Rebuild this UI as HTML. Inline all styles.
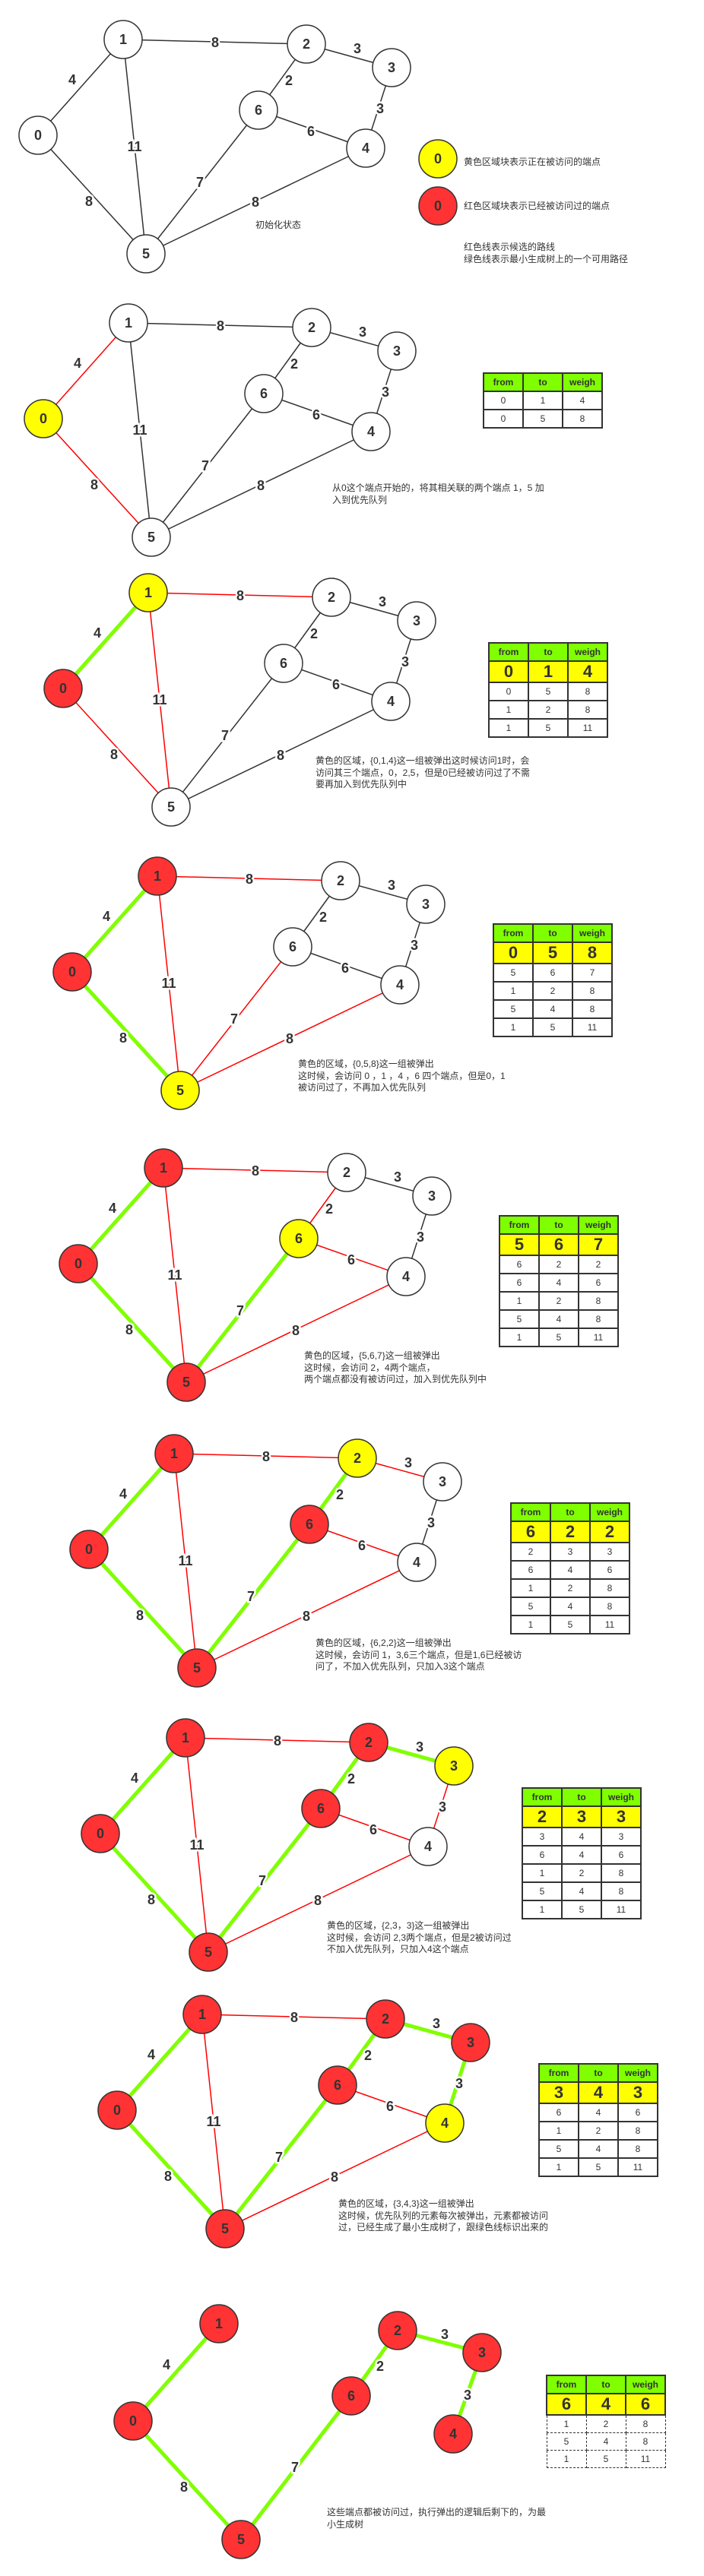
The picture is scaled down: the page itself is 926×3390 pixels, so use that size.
<!DOCTYPE html>
<html><head><meta charset="utf-8">
<style>
html,body{margin:0;padding:0;background:#fff;}
body{width:926px;height:3390px;position:relative;overflow:hidden;font-family:"Liberation Sans","Noto Sans CJK SC",sans-serif;color:#333;}
svg{position:absolute;left:0;top:0;}
.t{position:absolute;font-size:12px;line-height:15.5px;color:#333;white-space:nowrap;}
table{position:absolute;border-collapse:collapse;font-family:"Liberation Sans",sans-serif;}
td{border:2px solid #333;width:50px;height:22px;text-align:center;font-size:12px;padding:0;color:#333;}
tr.h td{background:#80ff00;font-weight:bold;}
tr.y td{background:#ffff00;font-size:22px;font-weight:bold;}
tr.d td{border:1.5px dashed #333;}
text.l{font:bold 18px "Liberation Sans",sans-serif;fill:#333;text-anchor:middle;paint-order:stroke;stroke:#fff;stroke-width:5px;}
text.n{font:bold 18px "Liberation Sans",sans-serif;fill:#333;text-anchor:middle;}
.k{stroke:#333;stroke-width:1.5;fill:none}
.r{stroke:#f00;stroke-width:1.5;fill:none}
.g{stroke:#80ff00;stroke-width:5;fill:none}
circle{stroke:#333;stroke-width:1.5}
</style></head><body>
<svg width="926" height="3390" viewBox="0 0 926 3390">
<defs>
<g id="labels">
<text class="l" x="95" y="111">4</text>
<text class="l" x="117" y="271">8</text>
<text class="l" x="177" y="199">11</text>
<text class="l" x="283" y="62">8</text>
<text class="l" x="470" y="70">3</text>
<text class="l" x="380" y="112">2</text>
<text class="l" x="409" y="179">6</text>
<text class="l" x="500" y="149">3</text>
<text class="l" x="263" y="246">7</text>
<text class="l" x="336" y="272">8</text>
</g>
</defs>

<!-- Panel 1 -->
<g transform="translate(0,0)">
<line class="k" x1="50" y1="178" x2="162" y2="52"/>
<line class="k" x1="50" y1="178" x2="192" y2="334"/>
<line class="k" x1="162" y1="52" x2="192" y2="334"/>
<line class="k" x1="162" y1="52" x2="403" y2="58"/>
<line class="k" x1="403" y1="58" x2="515" y2="89"/>
<line class="k" x1="403" y1="58" x2="340" y2="145"/>
<line class="k" x1="340" y1="145" x2="481" y2="195"/>
<line class="k" x1="515" y1="89" x2="481" y2="195"/>
<line class="k" x1="192" y1="334" x2="340" y2="145"/>
<line class="k" x1="192" y1="334" x2="481" y2="195"/>
<use href="#labels"/>
<circle cx="50" cy="178" r="25" fill="#fff"/><text class="n" x="50" y="184">0</text>
<circle cx="162" cy="52" r="25" fill="#fff"/><text class="n" x="162" y="58">1</text>
<circle cx="403" cy="58" r="25" fill="#fff"/><text class="n" x="403" y="64">2</text>
<circle cx="515" cy="89" r="25" fill="#fff"/><text class="n" x="515" y="95">3</text>
<circle cx="481" cy="195" r="25" fill="#fff"/><text class="n" x="481" y="201">4</text>
<circle cx="192" cy="334" r="25" fill="#fff"/><text class="n" x="192" y="340">5</text>
<circle cx="340" cy="145" r="25" fill="#fff"/><text class="n" x="340" y="151">6</text>
</g>
<circle cx="576" cy="209" r="25" fill="#ffff00"/><text class="n" x="576" y="215">0</text>
<circle cx="576" cy="271" r="25" fill="#ff3333"/><text class="n" x="576" y="277">0</text>

<!-- Panel 2 -->
<g transform="translate(7,373)">
<line class="r" x1="50" y1="178" x2="162" y2="52"/>
<line class="r" x1="50" y1="178" x2="192" y2="334"/>
<line class="k" x1="162" y1="52" x2="192" y2="334"/>
<line class="k" x1="162" y1="52" x2="403" y2="58"/>
<line class="k" x1="403" y1="58" x2="515" y2="89"/>
<line class="k" x1="403" y1="58" x2="340" y2="145"/>
<line class="k" x1="340" y1="145" x2="481" y2="195"/>
<line class="k" x1="515" y1="89" x2="481" y2="195"/>
<line class="k" x1="192" y1="334" x2="340" y2="145"/>
<line class="k" x1="192" y1="334" x2="481" y2="195"/>
<use href="#labels"/>
<circle cx="50" cy="178" r="25" fill="#ffff00"/><text class="n" x="50" y="184">0</text>
<circle cx="162" cy="52" r="25" fill="#fff"/><text class="n" x="162" y="58">1</text>
<circle cx="403" cy="58" r="25" fill="#fff"/><text class="n" x="403" y="64">2</text>
<circle cx="515" cy="89" r="25" fill="#fff"/><text class="n" x="515" y="95">3</text>
<circle cx="481" cy="195" r="25" fill="#fff"/><text class="n" x="481" y="201">4</text>
<circle cx="192" cy="334" r="25" fill="#fff"/><text class="n" x="192" y="340">5</text>
<circle cx="340" cy="145" r="25" fill="#fff"/><text class="n" x="340" y="151">6</text>
</g>

<!-- Panel 3 -->
<g transform="translate(33,728)">
<line class="g" x1="50" y1="178" x2="162" y2="52"/>
<line class="r" x1="50" y1="178" x2="192" y2="334"/>
<line class="r" x1="162" y1="52" x2="192" y2="334"/>
<line class="r" x1="162" y1="52" x2="403" y2="58"/>
<line class="k" x1="403" y1="58" x2="515" y2="89"/>
<line class="k" x1="403" y1="58" x2="340" y2="145"/>
<line class="k" x1="340" y1="145" x2="481" y2="195"/>
<line class="k" x1="515" y1="89" x2="481" y2="195"/>
<line class="k" x1="192" y1="334" x2="340" y2="145"/>
<line class="k" x1="192" y1="334" x2="481" y2="195"/>
<use href="#labels"/>
<circle cx="50" cy="178" r="25" fill="#ff3333"/><text class="n" x="50" y="184">0</text>
<circle cx="162" cy="52" r="25" fill="#ffff00"/><text class="n" x="162" y="58">1</text>
<circle cx="403" cy="58" r="25" fill="#fff"/><text class="n" x="403" y="64">2</text>
<circle cx="515" cy="89" r="25" fill="#fff"/><text class="n" x="515" y="95">3</text>
<circle cx="481" cy="195" r="25" fill="#fff"/><text class="n" x="481" y="201">4</text>
<circle cx="192" cy="334" r="25" fill="#fff"/><text class="n" x="192" y="340">5</text>
<circle cx="340" cy="145" r="25" fill="#fff"/><text class="n" x="340" y="151">6</text>
</g>

<!-- Panel 4 -->
<g transform="translate(45,1101)">
<line class="g" x1="50" y1="178" x2="162" y2="52"/>
<line class="g" x1="50" y1="178" x2="192" y2="334"/>
<line class="r" x1="162" y1="52" x2="192" y2="334"/>
<line class="r" x1="162" y1="52" x2="403" y2="58"/>
<line class="k" x1="403" y1="58" x2="515" y2="89"/>
<line class="k" x1="403" y1="58" x2="340" y2="145"/>
<line class="k" x1="340" y1="145" x2="481" y2="195"/>
<line class="k" x1="515" y1="89" x2="481" y2="195"/>
<line class="r" x1="192" y1="334" x2="340" y2="145"/>
<line class="r" x1="192" y1="334" x2="481" y2="195"/>
<use href="#labels"/>
<circle cx="50" cy="178" r="25" fill="#ff3333"/><text class="n" x="50" y="184">0</text>
<circle cx="162" cy="52" r="25" fill="#ff3333"/><text class="n" x="162" y="58">1</text>
<circle cx="403" cy="58" r="25" fill="#fff"/><text class="n" x="403" y="64">2</text>
<circle cx="515" cy="89" r="25" fill="#fff"/><text class="n" x="515" y="95">3</text>
<circle cx="481" cy="195" r="25" fill="#fff"/><text class="n" x="481" y="201">4</text>
<circle cx="192" cy="334" r="25" fill="#ffff00"/><text class="n" x="192" y="340">5</text>
<circle cx="340" cy="145" r="25" fill="#fff"/><text class="n" x="340" y="151">6</text>
</g>

<!-- Panel 5 -->
<g transform="translate(53,1485)">
<line class="g" x1="50" y1="178" x2="162" y2="52"/>
<line class="g" x1="50" y1="178" x2="192" y2="334"/>
<line class="r" x1="162" y1="52" x2="192" y2="334"/>
<line class="r" x1="162" y1="52" x2="403" y2="58"/>
<line class="k" x1="403" y1="58" x2="515" y2="89"/>
<line class="r" x1="403" y1="58" x2="340" y2="145"/>
<line class="r" x1="340" y1="145" x2="481" y2="195"/>
<line class="k" x1="515" y1="89" x2="481" y2="195"/>
<line class="g" x1="192" y1="334" x2="340" y2="145"/>
<line class="r" x1="192" y1="334" x2="481" y2="195"/>
<use href="#labels"/>
<circle cx="50" cy="178" r="25" fill="#ff3333"/><text class="n" x="50" y="184">0</text>
<circle cx="162" cy="52" r="25" fill="#ff3333"/><text class="n" x="162" y="58">1</text>
<circle cx="403" cy="58" r="25" fill="#fff"/><text class="n" x="403" y="64">2</text>
<circle cx="515" cy="89" r="25" fill="#fff"/><text class="n" x="515" y="95">3</text>
<circle cx="481" cy="195" r="25" fill="#fff"/><text class="n" x="481" y="201">4</text>
<circle cx="192" cy="334" r="25" fill="#ff3333"/><text class="n" x="192" y="340">5</text>
<circle cx="340" cy="145" r="25" fill="#ffff00"/><text class="n" x="340" y="151">6</text>
</g>

<!-- Panel 6 -->
<g transform="translate(67,1861)">
<line class="g" x1="50" y1="178" x2="162" y2="52"/>
<line class="g" x1="50" y1="178" x2="192" y2="334"/>
<line class="r" x1="162" y1="52" x2="192" y2="334"/>
<line class="r" x1="162" y1="52" x2="403" y2="58"/>
<line class="r" x1="403" y1="58" x2="515" y2="89"/>
<line class="g" x1="403" y1="58" x2="340" y2="145"/>
<line class="r" x1="340" y1="145" x2="481" y2="195"/>
<line class="k" x1="515" y1="89" x2="481" y2="195"/>
<line class="g" x1="192" y1="334" x2="340" y2="145"/>
<line class="r" x1="192" y1="334" x2="481" y2="195"/>
<use href="#labels"/>
<circle cx="50" cy="178" r="25" fill="#ff3333"/><text class="n" x="50" y="184">0</text>
<circle cx="162" cy="52" r="25" fill="#ff3333"/><text class="n" x="162" y="58">1</text>
<circle cx="403" cy="58" r="25" fill="#ffff00"/><text class="n" x="403" y="64">2</text>
<circle cx="515" cy="89" r="25" fill="#fff"/><text class="n" x="515" y="95">3</text>
<circle cx="481" cy="195" r="25" fill="#fff"/><text class="n" x="481" y="201">4</text>
<circle cx="192" cy="334" r="25" fill="#ff3333"/><text class="n" x="192" y="340">5</text>
<circle cx="340" cy="145" r="25" fill="#ff3333"/><text class="n" x="340" y="151">6</text>
</g>

<!-- Panel 7 -->
<g transform="translate(82,2235)">
<line class="g" x1="50" y1="178" x2="162" y2="52"/>
<line class="g" x1="50" y1="178" x2="192" y2="334"/>
<line class="r" x1="162" y1="52" x2="192" y2="334"/>
<line class="r" x1="162" y1="52" x2="403" y2="58"/>
<line class="g" x1="403" y1="58" x2="515" y2="89"/>
<line class="g" x1="403" y1="58" x2="340" y2="145"/>
<line class="r" x1="340" y1="145" x2="481" y2="195"/>
<line class="r" x1="515" y1="89" x2="481" y2="195"/>
<line class="g" x1="192" y1="334" x2="340" y2="145"/>
<line class="r" x1="192" y1="334" x2="481" y2="195"/>
<use href="#labels"/>
<circle cx="50" cy="178" r="25" fill="#ff3333"/><text class="n" x="50" y="184">0</text>
<circle cx="162" cy="52" r="25" fill="#ff3333"/><text class="n" x="162" y="58">1</text>
<circle cx="403" cy="58" r="25" fill="#ff3333"/><text class="n" x="403" y="64">2</text>
<circle cx="515" cy="89" r="25" fill="#ffff00"/><text class="n" x="515" y="95">3</text>
<circle cx="481" cy="195" r="25" fill="#fff"/><text class="n" x="481" y="201">4</text>
<circle cx="192" cy="334" r="25" fill="#ff3333"/><text class="n" x="192" y="340">5</text>
<circle cx="340" cy="145" r="25" fill="#ff3333"/><text class="n" x="340" y="151">6</text>
</g>

<!-- Panel 8 -->
<g transform="translate(104,2599)">
<line class="g" x1="50" y1="178" x2="162" y2="52"/>
<line class="g" x1="50" y1="178" x2="192" y2="334"/>
<line class="r" x1="162" y1="52" x2="192" y2="334"/>
<line class="r" x1="162" y1="52" x2="403" y2="58"/>
<line class="g" x1="403" y1="58" x2="515" y2="89"/>
<line class="g" x1="403" y1="58" x2="340" y2="145"/>
<line class="r" x1="340" y1="145" x2="481" y2="195"/>
<line class="g" x1="515" y1="89" x2="481" y2="195"/>
<line class="g" x1="192" y1="334" x2="340" y2="145"/>
<line class="r" x1="192" y1="334" x2="481" y2="195"/>
<use href="#labels"/>
<circle cx="50" cy="178" r="25" fill="#ff3333"/><text class="n" x="50" y="184">0</text>
<circle cx="162" cy="52" r="25" fill="#ff3333"/><text class="n" x="162" y="58">1</text>
<circle cx="403" cy="58" r="25" fill="#ff3333"/><text class="n" x="403" y="64">2</text>
<circle cx="515" cy="89" r="25" fill="#ff3333"/><text class="n" x="515" y="95">3</text>
<circle cx="481" cy="195" r="25" fill="#ffff00"/><text class="n" x="481" y="201">4</text>
<circle cx="192" cy="334" r="25" fill="#ff3333"/><text class="n" x="192" y="340">5</text>
<circle cx="340" cy="145" r="25" fill="#ff3333"/><text class="n" x="340" y="151">6</text>
</g>

<!-- Panel 9 -->
<g>
<line class="g" x1="175" y1="3186" x2="288" y2="3058"/>
<line class="g" x1="175" y1="3186" x2="317" y2="3342"/>
<line class="g" x1="317" y1="3342" x2="462" y2="3153"/>
<line class="g" x1="462" y1="3153" x2="523" y2="3067"/>
<line class="g" x1="523" y1="3067" x2="634" y2="3096"/>
<line class="g" x1="634" y1="3096" x2="596" y2="3203"/>
<text class="l" x="219" y="3118">4</text>
<text class="l" x="242" y="3279">8</text>
<text class="l" x="388" y="3253">7</text>
<text class="l" x="500" y="3120">2</text>
<text class="l" x="585" y="3078">3</text>
<text class="l" x="615" y="3158">3</text>
<circle cx="175" cy="3186" r="25" fill="#ff3333"/><text class="n" x="175" y="3192">0</text>
<circle cx="288" cy="3058" r="25" fill="#ff3333"/><text class="n" x="288" y="3064">1</text>
<circle cx="523" cy="3067" r="25" fill="#ff3333"/><text class="n" x="523" y="3073">2</text>
<circle cx="634" cy="3096" r="25" fill="#ff3333"/><text class="n" x="634" y="3102">3</text>
<circle cx="596" cy="3203" r="25" fill="#ff3333"/><text class="n" x="596" y="3209">4</text>
<circle cx="317" cy="3342" r="25" fill="#ff3333"/><text class="n" x="317" y="3348">5</text>
<circle cx="462" cy="3153" r="25" fill="#ff3333"/><text class="n" x="462" y="3159">6</text>
</g>
</svg>

<div class="t" style="left:610px;top:206px;">黄色区域块表示正在被访问的端点</div>
<div class="t" style="left:610px;top:264px;">红色区域块表示已经被访问过的端点</div>
<div class="t" style="left:610px;top:318px;">红色线表示候选的路线<br>绿色线表示最小生成树上的一个可用路径</div>
<div class="t" style="left:336px;top:289px;">初始化状态</div>

<div class="t" style="left:437px;top:635px;">从0这个端点开始的，将其相关联的两个端点 1，5 加<br>入到优先队列</div>
<div class="t" style="left:415px;top:994px;">黄色的区域，{0,1,4}这一组被弹出这时候访问1时，会<br>访问其三个端点，0，2,5，但是0已经被访问过了不需<br>要再加入到优先队列中</div>
<div class="t" style="left:392px;top:1393px;">黄色的区域，{0,5,8}这一组被弹出<br>这时候，会访问 0 ，1 ，4 ，6 四个端点，但是0，1<br>被访问过了，不再加入优先队列</div>
<div class="t" style="left:400px;top:1777px;">黄色的区域，{5,6,7}这一组被弹出<br>这时候，会访问 2，4两个端点，<br>两个端点都没有被访问过，加入到优先队列中</div>
<div class="t" style="left:415px;top:2155px;">黄色的区域，{6,2,2}这一组被弹出<br>这时候，会访问 1，3,6三个端点，但是1,6已经被访<br>问了，不加入优先队列，只加入3这个端点</div>
<div class="t" style="left:430px;top:2527px;">黄色的区域，{2,3，3}这一组被弹出<br>这时候，会访问 2,3两个端点，但是2被访问过<br>不加入优先队列，只加入4这个端点</div>
<div class="t" style="left:445px;top:2893px;">黄色的区域，{3,4,3}这一组被弹出<br>这时候，优先队列的元素每次被弹出，元素都被访问<br>过，已经生成了最小生成树了，跟绿色线标识出来的</div>
<div class="t" style="left:430px;top:3299px;">这些端点都被访问过，执行弹出的逻辑后剩下的，为最<br>小生成树</div>

<table style="left:635px;top:490px;"><tr class="h"><td>from</td><td>to</td><td>weigh</td></tr><tr><td>0</td><td>1</td><td>4</td></tr><tr><td>0</td><td>5</td><td>8</td></tr></table>
<table style="left:642px;top:845px;"><tr class="h"><td>from</td><td>to</td><td>weigh</td></tr><tr class="y"><td>0</td><td>1</td><td>4</td></tr><tr><td>0</td><td>5</td><td>8</td></tr><tr><td>1</td><td>2</td><td>8</td></tr><tr><td>1</td><td>5</td><td>11</td></tr></table>
<table style="left:648px;top:1215px;"><tr class="h"><td>from</td><td>to</td><td>weigh</td></tr><tr class="y"><td>0</td><td>5</td><td>8</td></tr><tr><td>5</td><td>6</td><td>7</td></tr><tr><td>1</td><td>2</td><td>8</td></tr><tr><td>5</td><td>4</td><td>8</td></tr><tr><td>1</td><td>5</td><td>11</td></tr></table>
<table style="left:656px;top:1599px;"><tr class="h"><td>from</td><td>to</td><td>weigh</td></tr><tr class="y"><td>5</td><td>6</td><td>7</td></tr><tr><td>6</td><td>2</td><td>2</td></tr><tr><td>6</td><td>4</td><td>6</td></tr><tr><td>1</td><td>2</td><td>8</td></tr><tr><td>5</td><td>4</td><td>8</td></tr><tr><td>1</td><td>5</td><td>11</td></tr></table>
<table style="left:671px;top:1977px;"><tr class="h"><td>from</td><td>to</td><td>weigh</td></tr><tr class="y"><td>6</td><td>2</td><td>2</td></tr><tr><td>2</td><td>3</td><td>3</td></tr><tr><td>6</td><td>4</td><td>6</td></tr><tr><td>1</td><td>2</td><td>8</td></tr><tr><td>5</td><td>4</td><td>8</td></tr><tr><td>1</td><td>5</td><td>11</td></tr></table>
<table style="left:686px;top:2352px;"><tr class="h"><td>from</td><td>to</td><td>weigh</td></tr><tr class="y"><td>2</td><td>3</td><td>3</td></tr><tr><td>3</td><td>4</td><td>3</td></tr><tr><td>6</td><td>4</td><td>6</td></tr><tr><td>1</td><td>2</td><td>8</td></tr><tr><td>5</td><td>4</td><td>8</td></tr><tr><td>1</td><td>5</td><td>11</td></tr></table>
<table style="left:708px;top:2715px;"><tr class="h"><td>from</td><td>to</td><td>weigh</td></tr><tr class="y"><td>3</td><td>4</td><td>3</td></tr><tr><td>6</td><td>4</td><td>6</td></tr><tr><td>1</td><td>2</td><td>8</td></tr><tr><td>5</td><td>4</td><td>8</td></tr><tr><td>1</td><td>5</td><td>11</td></tr></table>
<table style="left:718px;top:3125px;"><tr class="h"><td>from</td><td>to</td><td>weigh</td></tr><tr class="y"><td>6</td><td>4</td><td>6</td></tr><tr class="d"><td>1</td><td>2</td><td>8</td></tr><tr class="d"><td>5</td><td>4</td><td>8</td></tr><tr class="d"><td>1</td><td>5</td><td>11</td></tr></table>
</body></html>
